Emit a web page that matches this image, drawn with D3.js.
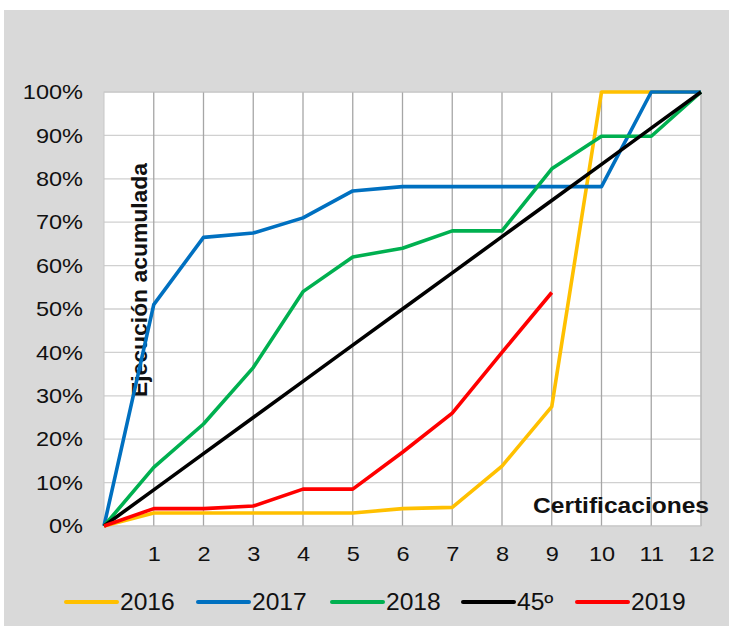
<!DOCTYPE html>
<html><head><meta charset="utf-8">
<script src="https://cdn.jsdelivr.net/npm/d3@7"></script>
<style>body{margin:0;background:#fff}svg{display:block}text{font-family:"Liberation Sans",Arial,sans-serif;fill:#111}</style>
</head><body><svg id="c" width="729" height="626"></svg>
<script>
const xTicks = [1,2,3,4,5,6,7,8,9,10,11,12];
const yTicks = [0,10,20,30,40,50,60,70,80,90,100];
const seriesNames = ["2016","2017","2018","45º","2019"];
const seriesColors = ["#ffc000","#0070c0","#00b050","#000000","#ff0000"];
const s2016 = [0,3,3,3,3,3,4,4.3,13.8,27.5,100,100,100];
const s2017 = [0,51,66.5,67.5,71,77.2,78.2,78.2,78.2,78.2,78.2,100,100];
const s2018 = [0,13.5,23.5,36.5,54,62,64,68,68,82.3,89.8,89.8,100];
const s45 = [0,8.33,16.67,25,33.33,41.67,50,58.33,66.67,75,83.33,91.67,100];
const s2019 = [0,4,4,4.6,8.5,8.5,17,26,40,53.8];
const seriesValues = [s2016,s2017,s2018,s45,s2019];

const svg = d3.select("#c");
svg.append("rect").attr("x",4).attr("y",10).attr("width",725).attr("height",616).attr("fill","#d9d9d9");

const L=104,R=701,T=92,B=526;
const x = d3.scaleLinear().domain([0,12]).range([L,R]);
const y = d3.scaleLinear().domain([0,100]).range([B,T]);

svg.append("rect").attr("x",L).attr("y",T).attr("width",R-L).attr("height",B-T).attr("fill","#fff");

svg.append("g").selectAll("line").data(yTicks).join("line")
  .attr("x1",L).attr("x2",R).attr("y1",d=>y(d)).attr("y2",d=>y(d))
  .attr("stroke","#d0d0d0").attr("stroke-width",1.3);
svg.append("g").selectAll("line").data(xTicks).join("line")
  .attr("x1",d=>x(d)).attr("x2",d=>x(d)).attr("y1",T).attr("y2",B)
  .attr("stroke","#a6a6a6").attr("stroke-width",1.3);
svg.append("rect").attr("x",L).attr("y",T).attr("width",R-L).attr("height",B-T)
  .attr("fill","none").attr("stroke","#c8c8c8").attr("stroke-width",1);

const ya = svg.append("g").attr("transform",`translate(${L},0)`)
  .call(d3.axisLeft(y).tickValues(yTicks).tickFormat(d=>d+"%").tickSize(0).tickPadding(21));
ya.select(".domain").remove();
ya.selectAll("text").attr("font-size",21).attr("font-family","Liberation Sans, Arial, sans-serif").attr("fill","#111").attr("class","stretch");
const xa = svg.append("g").attr("transform",`translate(0,${B})`)
  .call(d3.axisBottom(x).tickValues(xTicks).tickFormat(d=>d).tickSize(0).tickPadding(20));
xa.select(".domain").remove();
xa.selectAll("text").attr("font-size",21).attr("font-family","Liberation Sans, Arial, sans-serif").attr("fill","#111").attr("class","stretch");

svg.append("text").attr("x",533).attr("y",513).attr("font-size",22).attr("font-weight","bold")
  .attr("textLength",176).attr("lengthAdjust","spacingAndGlyphs").text("Certificaciones");
svg.append("text").attr("transform","translate(147,397) rotate(-90)").attr("font-size",22).attr("font-weight","bold")
  .attr("textLength",234).attr("lengthAdjust","spacingAndGlyphs").text("Ejecución acumulada");

const line = d3.line().x((d,i)=>x(i)).y(d=>y(d));
seriesValues.forEach((vals,k)=>{
  svg.append("path").datum(vals).attr("d",line).attr("fill","none")
    .attr("stroke",seriesColors[k]).attr("stroke-width",3.6).attr("stroke-linejoin","round");
});

const legX = [66,198,332,463,577];
const lg = svg.append("g");
seriesNames.forEach((n,k)=>{
  lg.append("line").attr("x1",legX[k]).attr("x2",legX[k]+51).attr("y1",602).attr("y2",602)
    .attr("stroke",seriesColors[k]).attr("stroke-width",4).attr("stroke-linecap","round");
  lg.append("text").attr("x",legX[k]+54).attr("y",610).attr("font-size",23).attr("class","stretch").text(n);
});

svg.selectAll("text.stretch").each(function(){
  const w = this.getComputedTextLength();
  const k = +d3.select(this).attr("font-size") === 23 ? 1.07 : 1.12;
  d3.select(this).attr("textLength",w*k).attr("lengthAdjust","spacingAndGlyphs");
});
</script></body></html>
